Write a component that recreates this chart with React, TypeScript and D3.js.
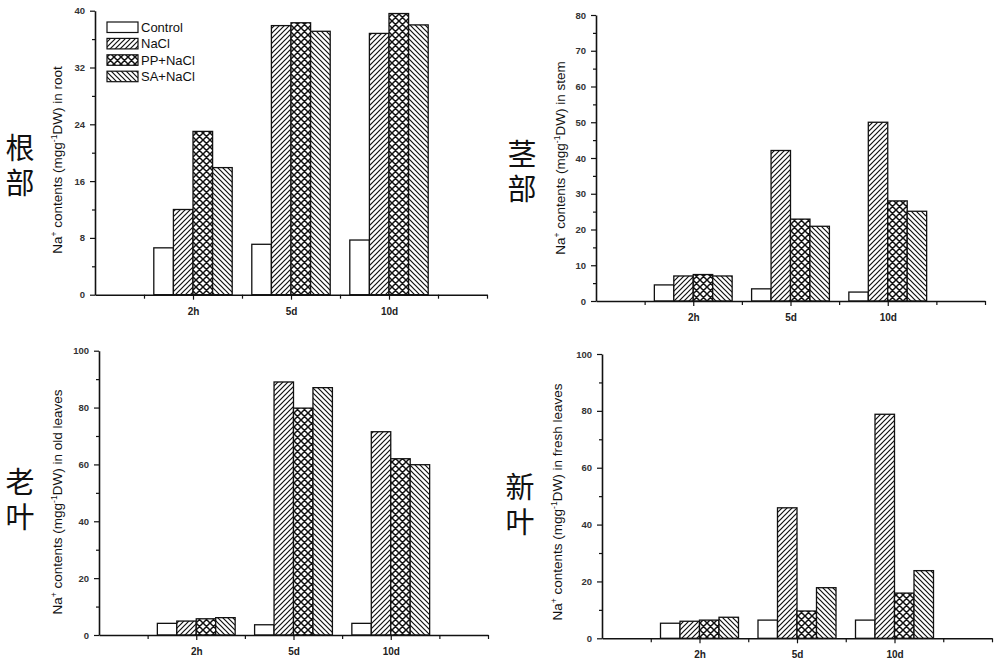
import React, { useEffect, useRef } from 'react'
import { select, scaleLinear, axisLeft, axisBottom, range } from 'd3'

const groups = ['2h', '5d', '10d']
const treatments = ['Control', 'NaCl', 'PP+NaCl', 'SA+NaCl']

// Na+ content per treatment (rows) for 2h, 5d, 10d
const rootNa = [
  [6.6, 7.1, 7.7],
  [12.0, 37.9, 36.8],
  [23.0, 38.3, 39.6],
  [17.9, 37.1, 38.0],
]
const stemNa = [
  [4.5, 3.4, 2.5],
  [7.0, 42.1, 50.0],
  [7.4, 22.9, 28.0],
  [7.0, 20.9, 25.1],
]
const oldLeafNa = [
  [4.1, 3.6, 4.1],
  [4.9, 89.0, 71.5],
  [5.7, 79.8, 62.0],
  [6.1, 87.0, 59.9],
]
const freshLeafNa = [
  [5.3, 6.4, 6.4],
  [6.0, 45.9, 78.8],
  [6.4, 9.6, 15.9],
  [7.4, 17.8, 23.8],
]

const fills = ['#fff', 'url(#hatchFwd)', 'url(#hatchCross)', 'url(#hatchBack)']

const panels = [
  { values: rootNa, organ: 'root', cn: '根部', yMax: 40, major: 8, minor: 4,
    left: 95, right: 487, bottom: 294.7, top: 10.7, cnX: 20, cnY: 165, titleX: 62, titleY: 160 },
  { values: stemNa, organ: 'stem', cn: '茎部', yMax: 80, major: 10, minor: 5,
    left: 596, right: 985, bottom: 301, top: 15, cnX: 522, cnY: 171, titleX: 565, titleY: 158 },
  { values: oldLeafNa, organ: 'old leaves', cn: '老叶', yMax: 100, major: 20, minor: 10,
    left: 99, right: 488, bottom: 635, top: 350.7, cnX: 20, cnY: 499, titleX: 62, titleY: 502 },
  { values: freshLeafNa, organ: 'fresh leaves', cn: '新叶', yMax: 100, major: 20, minor: 10,
    left: 602, right: 992, bottom: 638.3, top: 354, cnX: 520, cnY: 504, titleX: 562, titleY: 502 },
]

const font = '"Liberation Sans", Arial, sans-serif'

function App() {
  const svgRef = useRef(null)

  useEffect(() => {
    const svg = select(svgRef.current)
    svg.selectAll('*').remove()

    // hatch patterns
    const defs = svg.append('defs')
    const fwd = defs.append('pattern').attr('id', 'hatchFwd')
      .attr('patternUnits', 'userSpaceOnUse').attr('width', 5).attr('height', 5)
    fwd.append('rect').attr('width', 5).attr('height', 5).attr('fill', '#fff')
    fwd.append('path').attr('d', 'M0,5 L5,0 M-1,1 L1,-1 M4,6 L6,4')
      .attr('stroke', '#111').attr('stroke-width', 1.2)

    const back = defs.append('pattern').attr('id', 'hatchBack')
      .attr('patternUnits', 'userSpaceOnUse').attr('width', 5).attr('height', 5)
    back.append('rect').attr('width', 5).attr('height', 5).attr('fill', '#fff')
    back.append('path').attr('d', 'M0,0 L5,5 M-1,4 L1,6 M4,-1 L6,1')
      .attr('stroke', '#111').attr('stroke-width', 1.2)

    const cross = defs.append('pattern').attr('id', 'hatchCross')
      .attr('patternUnits', 'userSpaceOnUse').attr('width', 7).attr('height', 7)
    cross.append('rect').attr('width', 7).attr('height', 7).attr('fill', '#fff')
    cross.append('path').attr('d', 'M0,7 L7,0 M-1,1 L1,-1 M6,8 L8,6 M0,0 L7,7 M-1,6 L1,8 M6,-1 L8,1')
      .attr('stroke', '#111').attr('stroke-width', 1.5)

    panels.forEach(p => {
      const g = svg.append('g')
      const x = scaleLinear().domain([0, 4]).range([p.left, p.right])
      const y = scaleLinear().domain([0, p.yMax]).range([p.bottom, p.top])
      const bw = x(0.2) - x(0)

      // bars
      p.values.forEach((series, ti) => {
        g.append('g').selectAll('rect')
          .data(series)
          .join('rect')
          .attr('x', (d, gi) => x(gi + 1 - 0.4 + ti * 0.2))
          .attr('y', d => y(d))
          .attr('width', bw)
          .attr('height', d => p.bottom - y(d))
          .attr('fill', fills[ti])
          .attr('stroke', '#111')
          .attr('stroke-width', 1.3)
      })

      // y axis
      const yAxis = g.append('g')
        .attr('transform', `translate(${p.left}, 0)`)
        .call(axisLeft(y).tickValues(range(0, p.yMax + 0.1, p.major)).tickSize(5).tickSizeOuter(0).tickPadding(5))
      g.append('g')
        .attr('transform', `translate(${p.left}, 0)`)
        .call(axisLeft(y).tickValues(range(p.minor, p.yMax, p.major)).tickSize(3).tickSizeOuter(0).tickFormat(() => ''))
        .call(s => s.select('.domain').remove())
      yAxis.selectAll('text').attr('font-family', font).attr('font-size', 9.5)
        .attr('font-weight', 'bold').attr('fill', '#333')

      // x axis
      const xAxis = g.append('g')
        .attr('transform', `translate(0, ${p.bottom})`)
        .call(axisBottom(x).tickValues([1, 2, 3]).tickSize(5).tickSizeOuter(0).tickPadding(8)
          .tickFormat((d: any) => groups[d - 1]))
      g.append('g')
        .attr('transform', `translate(0, ${p.bottom})`)
        .call(axisBottom(x).tickValues([0.5, 1.5, 2.5, 3.5, 4]).tickSize(4).tickSizeOuter(0).tickFormat(() => ''))
        .call(s => s.select('.domain').remove())
      xAxis.selectAll('text').attr('font-family', font).attr('font-size', 10)
        .attr('font-weight', 'bold').attr('fill', '#222')

      g.selectAll('.domain').attr('stroke', '#111').attr('stroke-width', 1.6)
      g.selectAll('.tick line').attr('stroke', '#111').attr('stroke-width', 1.2)

      // axis title
      const title = g.append('text')
        .attr('transform', `translate(${p.titleX}, ${p.titleY}) rotate(-90)`)
        .attr('text-anchor', 'middle')
        .attr('font-family', font)
        .attr('font-size', 13.5)
        .attr('fill', '#111')
      title.append('tspan').text('Na')
      title.append('tspan').attr('dy', -5).attr('font-size', 8.5).text('+')
      title.append('tspan').attr('dy', 5).text(' contents (mgg')
      title.append('tspan').attr('dy', -5).attr('font-size', 8.5).text('-1')
      title.append('tspan').attr('dy', 5).text(`DW) in ${p.organ}`)

      // Chinese organ label, set vertically
      g.append('text')
        .attr('x', p.cnX)
        .attr('y', p.cnY + 3)
        .attr('text-anchor', 'middle')
        .style('writing-mode', 'vertical-rl')
        .style('letter-spacing', '6px')
        .attr('font-family', '"Noto Sans CJK SC", sans-serif')
        .attr('font-size', 29)
        .attr('fill', '#111')
        .text(p.cn)
    })

    // legend
    const legend = svg.append('g').attr('transform', 'translate(107, 22)')
    treatments.forEach((t, i) => {
      legend.append('rect')
        .attr('x', 0).attr('y', i * 16.4)
        .attr('width', 31).attr('height', 10.5)
        .attr('fill', fills[i]).attr('stroke', '#111').attr('stroke-width', 1.2)
      legend.append('text')
        .attr('x', 34).attr('y', i * 16.4 + 5.5)
        .attr('dominant-baseline', 'central')
        .attr('font-family', font).attr('font-size', 13).attr('fill', '#111')
        .text(t)
    })
  }, [])

  return (
    <div className='wrapper'>
      <svg ref={svgRef} width={1000} height={664}
        style={{ position: 'absolute', left: 0, top: 0, background: '#fff' }}></svg>
    </div>
  )
}

export default App
